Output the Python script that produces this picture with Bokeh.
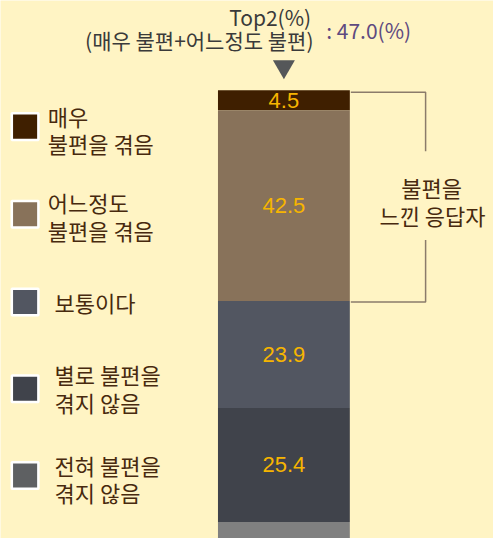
from bokeh.plotting import figure
from bokeh.models import Range1d, ColumnDataSource
from bokeh.core.properties import value
from bokeh.embed import file_html
from bokeh.resources import INLINE

# ---- data ----
categories = ["매우\n불편을 겪음", "어느정도\n불편을 겪음", "보통이다",
              "별로 불편을\n겪지 않음", "전혀 불편을\n겪지 않음"]
values = [4.5, 42.5, 23.9, 25.4, 3.7]
top2_value = 47.0
title_lines = ["Top2(%)", "(매우 불편+어느정도 불편)"]
bracket_label = "불편을\n느낀 응답자"

# ---- styles ----
bar_colors = ["#3F1F00", "#88725A", "#525661", "#40434B", "#808080"]
swatch_colors = ["#3F1F00", "#88725A", "#525661", "#40434B", "#5E6062"]
BG = "#FFF4C4"
KR = value("Noto Sans CJK KR")
NUM = value("Liberation Sans")
TXT = "#47290E"

W, H = 493, 538          # figure size (fits the window)
RW, RH = 501, 546        # layout coordinate space
BAR_TOP_Y = 91           # layout y of the 100% line
p = figure(width=W, height=H, output_backend="svg", toolbar_location=None,
           x_range=Range1d(0, RW), y_range=Range1d(RH, 0), min_border=0)
p.extra_y_ranges = {"pct": Range1d(0, 100 * RH / (RH - BAR_TOP_Y))}
p.axis.visible = False
p.grid.visible = False
p.outline_line_color = None
p.background_fill_color = BG
p.border_fill_color = BG

# ---- stacked bar (from top: 매우 at 100%) ----
tops, bottoms = [], []
acc = 100.0
for v in values:
    tops.append(acc)
    bottoms.append(acc - v)
    acc -= v
mids = [(t + b) / 2 for t, b in zip(tops, bottoms)]
bar_src = ColumnDataSource(dict(top=tops, bottom=bottoms, color=bar_colors))
p.vbar(x=288, width=134, top="top", bottom="bottom", fill_color="color",
       line_color=None, source=bar_src, y_range_name="pct")

lab_src = ColumnDataSource(dict(mid=mids[:4], label=[f"{v:.1f}" for v in values[:4]]))
p.text(x=288, y="mid", text="label", source=lab_src, y_range_name="pct",
       text_align="center", text_baseline="middle", text_font=NUM,
       text_font_size="22px", text_color="#F7B500")

# ---- legend ----
sw_y = [128, 217, 306, 394, 482]
block_y = [131, 219, 306, 393, 485]
txt_x = [48, 48, 55, 55, 55]
LINE = 28
p.rect(x=[25] * 5, y=sw_y, width=27, height=27, fill_color=swatch_colors,
       line_color="white", line_width=2.5)
lx, ly, lt = [], [], []
for cat, bx, by in zip(categories, txt_x, block_y):
    lines = cat.split("\n")
    n = len(lines)
    for i, s in enumerate(lines):
        lx.append(bx)
        ly.append(by + (i - (n - 1) / 2) * LINE)
        lt.append(s)
p.text(x=lx, y=ly, text=lt, text_align="left", text_baseline="middle",
       text_font=KR, text_font_size="22px", text_color=TXT)

# ---- title ----
p.text(x=[274, 202], y=[17, 40], text=title_lines, text_align="center",
       text_baseline="middle", text_font=KR, text_font_size="21px",
       text_color="#3A3A3A")
p.text(x=[331], y=[30], text=[f": {top2_value:.1f}(%)"], text_align="left",
       text_baseline="middle", text_font=KR, text_font_size="21px",
       text_color="#5E4A80")
p.scatter(x=[288], y=[67], marker="inverted_triangle", size=22,
          fill_color="#555759", line_color=None)

# ---- bracket ----
p.multi_line(xs=[[356, 432, 432], [432, 432, 356]],
             ys=[[93, 93, 153], [243, 306, 306]],
             line_color="#8B7B6B", line_width=1.5)
b_lines = bracket_label.split("\n")
p.text(x=[438, 439], y=[189, 218], text=b_lines, text_align="center",
       text_baseline="middle", text_font=KR, text_font_size="22px",
       text_color=TXT)

open("out.html", "w").write(file_html(p, INLINE))
